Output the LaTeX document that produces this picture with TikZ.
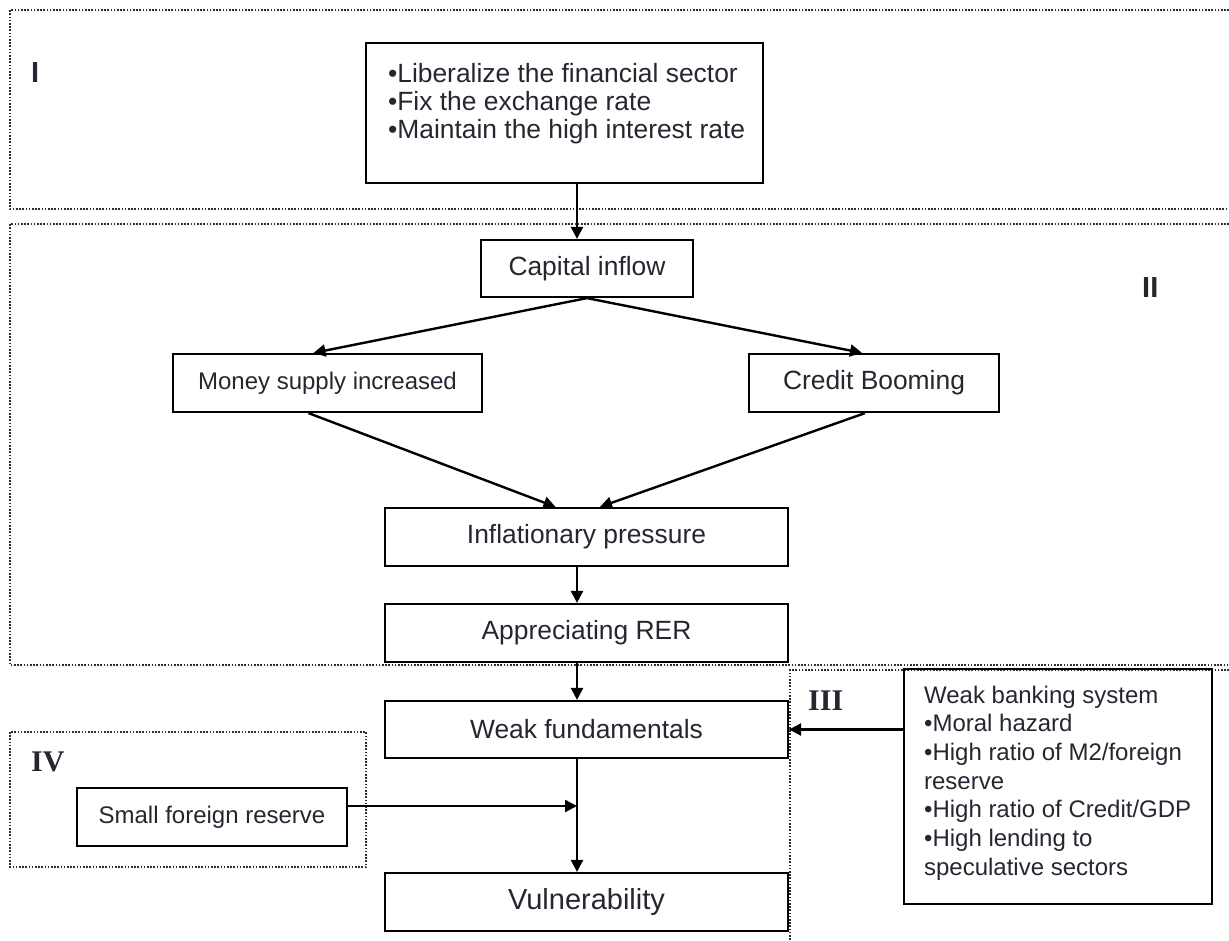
\documentclass[tikz,border=0pt]{standalone}
\usepackage{fontspec}
\setmainfont{Liberation Sans}
\newfontfamily\serifrm{Liberation Serif}
\usetikzlibrary{arrows.meta,calc}
\definecolor{txt}{RGB}{38,38,48}
\definecolor{dotc}{RGB}{45,45,45}
\tikzset{
  box/.style={draw=black, line width=2.2pt, inner sep=0pt, text=txt, align=center},
  bigfont/.style={font=\fontsize{26.4}{28}\selectfont},
  smallfont/.style={font=\fontsize{24}{28.7}\selectfont},
  vfont/.style={font=\fontsize{29}{32}\selectfont},
  arr/.style={draw=black, line width=2.4pt, -{Triangle[length=12pt,width=12pt]}},
  region/.style={draw=dotc, line width=1.6pt, dash pattern=on 1.6pt off 1.6pt},
  rlabel/.style={anchor=base west, text=txt, inner sep=0pt},
}
\begin{document}
\begin{tikzpicture}[x=1pt,y=-1pt]
\useasboundingbox (0,0) rectangle (1229,941);

% regions
\draw[region] (1229,10) -- (10,10) -- (10,209) -- (1229,209);
\draw[region] (1229,224) -- (10,224) -- (10,665) -- (1229,665);
\draw[region] (1229,670) -- (790,670) -- (790,941);
\draw[region] (10,732) rectangle (366,867);

% region labels
\node[rlabel, font=\fontsize{29}{30}\selectfont\bfseries] (lI) at (31,83) {I};
\node[rlabel, font=\fontsize{29}{30}\selectfont\bfseries] (lII) at (1142,298) {II};
\node[rlabel, font=\fontsize{30}{31}\selectfont\serifrm\bfseries] (lIII) at (808,710) {III};
\node[rlabel, font=\fontsize{30}{31}\selectfont\serifrm\bfseries] (lIV) at (31,771) {IV};

\coordinate (spine) at (577,0);

% nodes
\node[box, bigfont, anchor=north west, inner sep=0pt] (pol) at (365,42)
  {\parbox[c][140pt][t]{397pt}{\raggedright\leftskip=22pt\rule{0pt}{39pt}\mbox{•Liberalize the financial sector}\\\mbox{•Fix the exchange rate}\\\mbox{•Maintain the high interest rate}}};
\node[box, bigfont, minimum width=212pt, minimum height=57pt] (cap) at (587,268.5) {Capital inflow};
\node[box, smallfont, minimum width=309pt, minimum height=58pt] (ms) at (327.5,383) {Money supply increased};
\node[box, bigfont, minimum width=250pt, minimum height=58pt] (cb) at (874,383) {Credit Booming};
\node[box, bigfont, minimum width=403pt, minimum height=58pt] (inf) at (586.5,537) {Inflationary pressure};
\node[box, bigfont, minimum width=403pt, minimum height=58pt] (app) at (586.5,633) {Appreciating RER};
\node[box, bigfont, minimum width=403pt, minimum height=57pt] (wf) at (586.5,729.5) {Weak fundamentals};
\node[box, vfont, minimum width=403pt, minimum height=58pt] (vul) at (586.5,902) {Vulnerability};
\node[box, smallfont, minimum width=270pt, minimum height=58pt] (sfr) at (212,817) {Small foreign reserve};
\node[box, smallfont, anchor=north west, inner sep=0pt] (wbs) at (903,668)
  {\parbox[c][235pt][t]{308pt}{\raggedright\leftskip=20pt\rule{0pt}{34pt}\mbox{Weak banking system}\\\mbox{•Moral hazard}\\\mbox{•High ratio of M2/foreign}\\\mbox{reserve}\\\mbox{•High ratio of Credit/GDP}\\\mbox{•High lending to}\\\mbox{speculative sectors}}};

% connectors
\draw[arr] (pol.south -| spine) -- (cap.north -| spine);
\draw[arr] (cap.south) -- ($(ms.north)+(-14pt,0)$);
\draw[arr] (cap.south) -- ($(cb.north)+(-12pt,0)$);
\draw[arr] ($(ms.south)+(-19pt,0)$) -- ($(inf.north)+(-31pt,0)$);
\draw[arr] ($(cb.south)+(-9pt,0)$) -- ($(inf.north)+(13.5pt,0)$);
\draw[arr] (inf.south -| spine) -- (app.north -| spine);
\draw[arr] (app.south -| spine) -- (wf.north -| spine);
\draw[arr] (wf.south -| spine) -- (vul.north -| spine);
\coordinate (sfrout) at ($(sfr.east)+(0,11pt)$);
\draw[arr] (sfrout) -- (sfrout -| spine);
\draw[arr] (wbs.west |- wf.east) -- (wf.east);
\end{tikzpicture}
\end{document}
